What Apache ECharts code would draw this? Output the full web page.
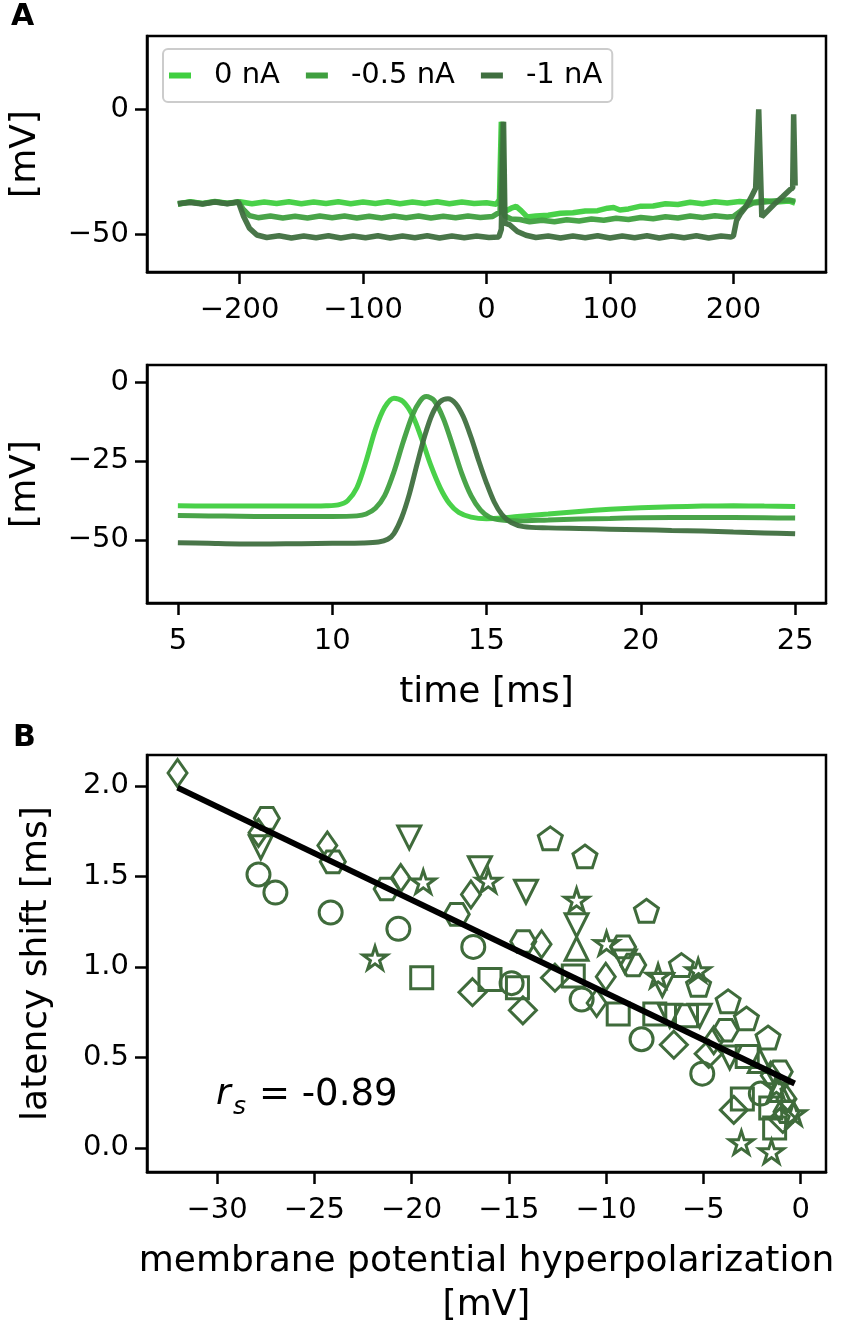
<!DOCTYPE html>
<html>
<head>
<meta charset="utf-8">
<script src="https://cdn.jsdelivr.net/npm/echarts@6/dist/echarts.min.js"></script>
<style>
html, body { margin: 0; padding: 0; background: #fff; }
#chart { width: 850px; height: 1324px; }
</style>
</head>
<body>
<div id="chart"></div>
<script>
const FONT = 'DejaVu Sans';
const seriesNames = ['0 nA', '-0.5 nA', '-1 nA'];
const traceColors = ['#3fcf3f', '#3f9f3f', '#3f6f3f'];
const markerColor = '#3f6b3b';

// panel A top: whole recording, [time ms, mV]
const lightLong = [[-250,-37.8],[-240,-36.9],[-230,-37.6],[-220,-36.8],[-210,-37.5],[-200,-36.9],[-190,-37.7],[-180,-37.0],[-170,-37.6],[-160,-36.9],[-150,-37.7],[-140,-37.0],[-130,-37.6],[-120,-36.9],[-110,-37.7],[-100,-37.0],[-90,-37.6],[-80,-36.9],[-70,-37.7],[-60,-37.0],[-50,-37.6],[-40,-36.9],[-30,-37.7],[-20,-37.0],[-10,-37.6],[0,-37.3],[8,-37.9],[10.5,-36],[12,-5],[13.5,-41],[16,-40.5],[20,-39.5],[24,-38.8],[28,-40.5],[33,-43.0],[40,-42.6],[50,-42.3],[60,-41.5],[70,-41.3],[80,-40.6],[90,-40.5],[98,-39.5],[103,-39.2],[108,-40.2],[115,-39.8],[125,-38.7],[135,-38.6],[145,-37.7],[155,-38.0],[165,-37.1],[175,-37.7],[185,-36.9],[195,-37.4],[205,-36.8],[215,-37.2],[225,-36.5],[235,-37.0],[245,-36.6],[250,-37.5]];
const midLong = [[-250,-37.9],[-240,-37.0],[-230,-37.7],[-220,-36.9],[-210,-37.6],[-201,-37.0],[-197,-40.0],[-192,-42.5],[-185,-43.3],[-175,-42.6],[-165,-43.4],[-155,-42.7],[-145,-43.4],[-135,-42.6],[-125,-43.3],[-115,-42.6],[-105,-43.4],[-95,-42.7],[-85,-43.4],[-75,-42.6],[-65,-43.3],[-55,-42.6],[-45,-43.4],[-35,-42.7],[-25,-43.3],[-15,-42.6],[-5,-43.2],[5,-42.8],[11,-41],[13,-5],[14.5,-42.5],[20,-43.8],[27,-44.0],[35,-44.9],[45,-44.3],[55,-44.9],[65,-44.1],[75,-44.6],[85,-43.8],[95,-44.3],[105,-43.5],[115,-44.0],[125,-43.2],[135,-43.7],[145,-42.9],[155,-43.4],[165,-42.6],[175,-43.2],[185,-42.5],[195,-43.0],[200,-42.8],[205,-41.0],[210,-38.8],[216,-37.4],[225,-37.0],[235,-36.5],[245,-36.2],[250,-36.8]];
const darkLong = [[-250,-37.6],[-240,-37.2],[-230,-37.8],[-220,-37.0],[-210,-37.7],[-201,-37.0],[-197,-42.5],[-192,-47.5],[-186,-50.2],[-178,-51.2],[-168,-50.5],[-158,-51.4],[-148,-50.6],[-138,-51.3],[-128,-50.5],[-118,-51.4],[-108,-50.6],[-98,-51.3],[-88,-50.5],[-78,-51.4],[-68,-50.6],[-58,-51.3],[-48,-50.5],[-38,-51.4],[-28,-50.6],[-18,-51.3],[-8,-50.6],[2,-51.2],[10,-51.0],[12,-48],[13.8,-5],[15,-45.5],[19,-46.2],[25,-48.8],[32,-50.3],[40,-51.2],[50,-50.6],[60,-51.4],[70,-50.6],[80,-51.3],[90,-50.5],[100,-51.4],[110,-50.6],[120,-51.3],[130,-50.5],[140,-51.4],[150,-50.6],[160,-51.3],[170,-50.5],[180,-51.4],[190,-50.6],[198,-51.0],[200,-50.6],[202.5,-44.5],[206,-41.5],[210,-39.0],[214,-35.5],[218,-31.5],[220.5,0],[223,-43],[228,-40.5],[234,-37.5],[240,-34.8],[246,-32.0],[248,-31.5],[248.8,-2],[250,-30.5]];

// panel A bottom: first spike, [time ms, mV]
const lightFast = [[5,-39.2],[6,-39.3],[7,-39.3],[8,-39.3],[9,-39.3],[9.8,-39.2],[10.2,-38.9],[10.5,-37.6],[10.8,-33.5],[11.1,-25],[11.4,-15],[11.7,-8],[12.0,-5.1],[12.3,-6.2],[12.6,-10.5],[12.9,-18],[13.2,-26.5],[13.5,-33.5],[13.8,-38.5],[14.1,-41.3],[14.5,-42.8],[15,-43.3],[15.5,-43.1],[16,-42.6],[17,-41.8],[18,-41.0],[19,-40.3],[20,-39.8],[21,-39.5],[22,-39.3],[23,-39.2],[24,-39.3],[25,-39.4]];
const midFast = [[5,-42.3],[6,-42.4],[7,-42.5],[8,-42.6],[9,-42.6],[10,-42.6],[10.8,-42.4],[11.1,-41.8],[11.4,-40],[11.7,-36],[12.0,-28.5],[12.3,-19],[12.6,-10.5],[12.85,-6],[13.05,-4.6],[13.3,-5.8],[13.6,-11.5],[13.9,-20],[14.2,-29],[14.5,-36],[14.8,-40.5],[15.1,-42.8],[15.5,-43.7],[16,-44],[17,-43.7],[18,-43.4],[19,-43.2],[20,-43.0],[22,-42.9],[24,-43.0],[25,-43.1]];
const darkFast = [[5,-50.9],[6,-51.1],[7,-51.3],[8,-51.3],[9,-51.2],[10,-51.1],[11,-51.0],[11.5,-50.7],[11.8,-49.8],[12.0,-48],[12.25,-43],[12.5,-35.5],[12.75,-26],[13.0,-17],[13.25,-10],[13.5,-6.2],[13.75,-5.3],[14.0,-6.8],[14.25,-11],[14.5,-17.5],[14.75,-25],[15.0,-32],[15.25,-38],[15.5,-42],[15.8,-44.5],[16.2,-45.8],[17,-46.2],[18,-46.4],[19,-46.6],[20,-46.8],[21,-47.0],[22,-47.2],[23,-47.5],[24,-47.8],[25,-48.1]];

// panel B: [hyperpolarization mV, latency shift ms] per marker shape
const circlePts = [[-27.87,1.51],[-27.0,1.41],[-24.16,1.30],[-20.68,1.21],[-16.83,1.11],[-14.86,0.91],[-11.26,0.82],[-8.18,0.60],[-5.06,0.41],[-2.05,0.30]];
const squarePts = [[-19.48,0.94],[-15.97,0.93],[-14.56,0.885],[-11.69,0.95],[-9.38,0.74],[-7.5,0.74],[-5.87,0.73],[-2.75,0.505],[-3.0,0.27],[-1.54,0.22],[-1.34,0.11]];
const bigDiamondPts = [[-16.87,0.86],[-14.28,0.76],[-12.63,0.94],[-6.52,0.57],[-4.73,0.52],[-3.44,0.21],[-0.92,0.16]];
const thinDiamondPts = [[-32.03,2.07],[-27.87,1.74],[-24.33,1.67],[-20.56,1.49],[-16.95,1.40],[-13.32,1.125],[-10.02,0.945],[-10.49,0.80],[-4.47,0.595],[-1.54,0.40],[-0.73,0.27]];
const pentagonPts = [[-12.87,1.71],[-11.09,1.61],[-7.93,1.31],[-6.13,1.01],[-5.25,0.90],[-3.73,0.81],[-2.79,0.715],[-1.68,0.61]];
const hexagonPts = [[-27.44,1.82],[-24.05,1.58],[-21.28,1.43],[-17.68,1.29],[-14.26,1.14],[-9.13,1.11],[-8.61,1.01],[-3.86,0.65],[-1.08,0.42],[-0.73,0.20]];
const starPts = [[-19.4,1.47],[-16.06,1.475],[-21.88,1.05],[-11.52,1.37],[-9.98,1.13],[-7.33,0.95],[-5.27,0.98],[-1.25,0.34],[-0.36,0.19],[-3.05,0.03],[-1.5,-0.02]];
const triDownPts = [[-27.75,1.66],[-20.12,1.715],[-16.49,1.545],[-14.12,1.415],[-11.52,1.23],[-9.04,1.03],[-7.11,0.90],[-6.73,0.73],[-5.19,0.73],[-3.65,0.50]];
const triUpPts = [[-11.52,1.10],[-2.1,0.48],[-1.13,0.32]];

const fitLineX = [-32.03, -0.31];
const fitLineY = [1.99, 0.356];

const xTicksLong = [-200, -100, 0, 100, 200];
const yTicksLong = [-50, 0];
const xTicksFast = [5, 10, 15, 20, 25];
const yTicksFast = [-50, -25, 0];
const xTicksB = [-30, -25, -20, -15, -10, -5, 0];
const yTicksB = [0, 0.5, 1.0, 1.5, 2.0];

const minusFmt = v => (v < 0 ? '\u2212' + Math.abs(v) : String(v));

const PENTAGON = 'path://M0,-1L0.951,-0.309L0.588,0.809L-0.588,0.809L-0.951,-0.309Z';
const HEXAGON = 'path://M-1,0L-0.5,-0.866L0.5,-0.866L1,0L0.5,0.866L-0.5,0.866Z';
const STAR = 'path://M0,-1L0.2233,-0.3074L0.9511,-0.309L0.3614,0.1174L0.5878,0.809L0,0.38L-0.5878,0.809L-0.3614,0.1174L-0.9511,-0.309L-0.2233,-0.3074Z';

function axis(gridIndex, min, max, ticks, fmt, margin, extra) {
    return Object.assign({
        type: 'value',
        gridIndex: gridIndex,
        min: min,
        max: max,
        splitLine: { show: false },
        axisLine: { show: true, onZero: false, lineStyle: { color: '#000', width: 2.5 } },
        axisTick: { show: true, length: 12, customValues: ticks, lineStyle: { color: '#000', width: 2.5 } },
        axisLabel: { customValues: ticks, formatter: fmt, margin: margin, color: '#000', fontSize: 29, fontFamily: FONT },
        nameTextStyle: { color: '#000', fontSize: 36, fontFamily: FONT },
        nameMoveOverlap: false
    }, extra || {});
}

function gridBox(top, height) {
    return {
        left: 147, top: top, width: 679, height: height,
        show: true, borderColor: '#000', borderWidth: 2.5, backgroundColor: 'transparent',
        containLabel: false, outerBoundsMode: 'none'
    };
}

function traceSeries(name, data, idx, color, width) {
    return {
        name: name, type: 'line', data: data,
        xAxisIndex: idx, yAxisIndex: idx,
        showSymbol: false, symbol: 'none', smooth: idx === 1 ? 0.3 : false,
        color: color,
        lineStyle: { color: color, width: width, opacity: 0.95 }
    };
}

function markerSeries(data, symbol, size, rotate) {
    return {
        type: 'scatter', data: data,
        xAxisIndex: 2, yAxisIndex: 2,
        symbol: symbol, symbolSize: size, symbolRotate: rotate || 0, symbolKeepAspect: true,
        itemStyle: { color: 'transparent', borderColor: markerColor, borderWidth: 3, opacity: 1 },
        z: 3
    };
}

let dom = document.getElementById('chart');
let myChart = echarts.init(dom, null, { renderer: 'canvas' });

let option = {
    animation: false,
    backgroundColor: '#fff',
    textStyle: { fontFamily: FONT },
    grid: [gridBox(36, 236), gridBox(365, 238), gridBox(755, 417)],
    xAxis: [
        axis(0, -275, 275, xTicksLong, minusFmt, 24),
        axis(1, 4, 26, xTicksFast, minusFmt, 24, { name: 'time [ms]', nameLocation: 'middle', nameGap: 72 }),
        axis(2, -33.6, 1.3, xTicksB, minusFmt, 24, {
            name: 'membrane potential hyperpolarization\n[mV]', nameLocation: 'middle', nameGap: 68,
            nameTextStyle: { color: '#000', fontSize: 36, fontFamily: FONT, lineHeight: 44 }
        })
    ],
    yAxis: [
        axis(0, -65, 29.3, yTicksLong, minusFmt, 18, { name: '[mV]', nameLocation: 'middle', nameGap: 103 }),
        axis(1, -70, 5.4, yTicksFast, minusFmt, 18, { name: '[mV]', nameLocation: 'middle', nameGap: 103 }),
        axis(2, -0.133, 2.17, yTicksB, v => v.toFixed(1), 18, { name: 'latency shift [ms]', nameLocation: 'middle', nameGap: 92 })
    ],
    legend: {
        data: seriesNames,
        left: 163, top: 49,
        icon: 'rect', itemWidth: 22, itemHeight: 6, itemGap: 26,
        backgroundColor: '#fff', borderColor: '#cccccc', borderWidth: 2, borderRadius: 5,
        padding: [12, 10, 12, 6],
        textStyle: { fontSize: 29, fontFamily: FONT, color: '#000', padding: [0, 0, 0, 18] }
    },
    graphic: [
        { type: 'text', left: 11, top: 2, style: { text: 'A', font: 'bold 30px "DejaVu Sans"', fill: '#000' } },
        { type: 'text', left: 13, top: 723, style: { text: 'B', font: 'bold 30px "DejaVu Sans"', fill: '#000' } },
        { type: 'text', left: 216, top: 1077, style: { text: 'r', font: 'italic 36px "DejaVu Sans"', fill: '#000' } },
        { type: 'text', left: 233, top: 1095, style: { text: 's', font: 'italic 25px "DejaVu Sans"', fill: '#000' } },
        { type: 'text', left: 259, top: 1077, style: { text: '= -0.89', font: '37px "DejaVu Sans"', fill: '#000' } }
    ],
    series: [
        traceSeries(seriesNames[0], lightLong, 0, traceColors[0], 5.5),
        traceSeries(seriesNames[1], midLong, 0, traceColors[1], 5.5),
        traceSeries(seriesNames[2], darkLong, 0, traceColors[2], 5.5),
        traceSeries(seriesNames[0], lightFast, 1, traceColors[0], 5),
        traceSeries(seriesNames[1], midFast, 1, traceColors[1], 5),
        traceSeries(seriesNames[2], darkFast, 1, traceColors[2], 5),
        markerSeries(circlePts, 'circle', 23),
        markerSeries(squarePts, 'rect', 22),
        markerSeries(bigDiamondPts, 'diamond', [27, 27]),
        markerSeries(thinDiamondPts, 'diamond', [19, 27]),
        markerSeries(pentagonPts, PENTAGON, 24),
        markerSeries(hexagonPts, HEXAGON, 25),
        markerSeries(starPts, STAR, 24),
        markerSeries(triDownPts, 'triangle', [23, 23], 180),
        markerSeries(triUpPts, 'triangle', [23, 23]),
        {
            type: 'line', xAxisIndex: 2, yAxisIndex: 2,
            data: fitLineX.map((x, i) => [x, fitLineY[i]]),
            showSymbol: false, symbol: 'none',
            lineStyle: { color: '#000', width: 6 }, z: 5
        }
    ]
};

if (option && typeof option === 'object') {
    myChart.setOption(option);
}
window.addEventListener('resize', myChart.resize);
</script>
</body>
</html>
